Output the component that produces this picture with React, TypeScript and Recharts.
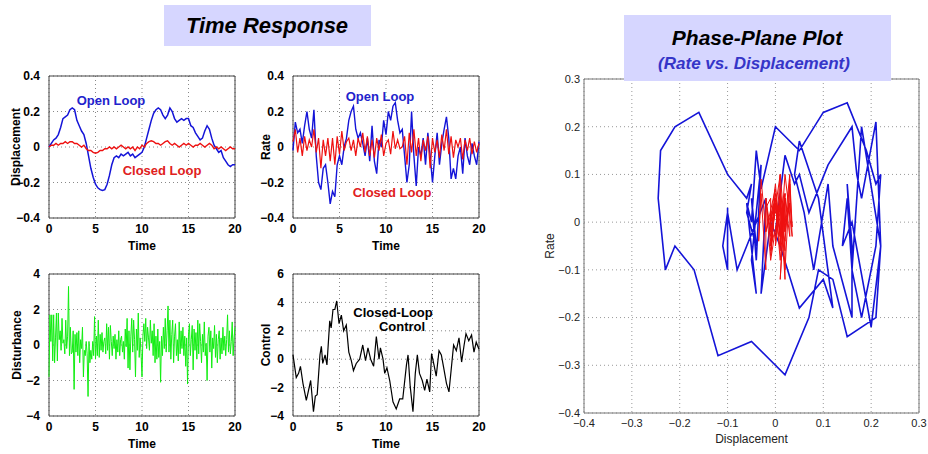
import React from "react";
import {
  LineChart,
  Line,
  XAxis,
  YAxis,
  CartesianGrid,
  ReferenceArea,
} from "recharts";

const FONT = "'Liberation Sans', Arial, Helvetica, sans-serif";
const BLUE = "#1414d8";
const RED = "#ee1010";
const GREEN = "#11ee11";

// time grid for displacement / rate (every 0.25 s)
const T25 = Array.from({ length: 81 }, (_, i) => i * 0.25);

const dispOpen = [
  0.0, 0.02, 0.04, 0.05, 0.07, 0.11, 0.16, 0.17, 0.18, 0.21,
  0.22, 0.21, 0.15, 0.12, 0.09, 0.07, 0.02, -0.05, -0.12, -0.17,
  -0.21, -0.23, -0.24, -0.245, -0.24, -0.21, -0.16, -0.1, -0.06, -0.05,
  -0.06, -0.04, -0.05, -0.04, -0.03, -0.05, -0.04, -0.06, -0.05, -0.04,
  -0.03, 0.0, 0.05, 0.1, 0.15, 0.19, 0.21, 0.22, 0.21, 0.18,
  0.16, 0.18, 0.22, 0.2, 0.16, 0.14, 0.15, 0.16, 0.15, 0.16,
  0.16, 0.12, 0.11, 0.08, 0.06, 0.04, 0.05, 0.09, 0.12, 0.1,
  0.05, 0.01, -0.01, -0.03, -0.02, -0.06, -0.08, -0.1, -0.11, -0.1,
  -0.1,
];

const dispClosed = [
  0.0, 0.01, 0.01, 0.02, 0.01, 0.02, 0.02, 0.03, 0.02, 0.03,
  0.03, 0.02, 0.02, 0.01, 0.0, 0.01, -0.01, -0.02, -0.02, -0.03,
  -0.035, -0.03, -0.02, -0.02, -0.01, -0.01, 0.0, -0.01, 0.0, -0.01,
  0.0, 0.01, 0.0, -0.01, 0.0, -0.01, 0.0, -0.02, 0.0, -0.01,
  0.01, 0.0, 0.02, 0.03, 0.035, 0.03, 0.02, 0.02, 0.01, 0.02,
  0.03, 0.035, 0.02, 0.01, 0.02, 0.01, 0.0, 0.01, 0.02, 0.01,
  0.02, 0.01, 0.0, 0.01, 0.01, 0.02, 0.01, 0.0, 0.01, 0.02,
  0.01, -0.01, 0.0, -0.01, 0.0, -0.01, -0.02, -0.01, 0.0, -0.01,
  -0.01,
];

const rateOpen = [
  -0.02, 0.14, 0.08, 0.1, 0.02, 0.12, 0.2, 0.1, 0.05, 0.21,
  -0.05, -0.2, -0.24, -0.12, -0.1, -0.2, -0.32, -0.25, -0.28, -0.1,
  -0.05, -0.1, 0.0, 0.05, 0.15, 0.2, 0.23, 0.1, 0.05, 0.08,
  0.02, -0.05, 0.05, -0.08, 0.12, -0.08, -0.15, 0.04, 0.0, 0.15,
  0.07, 0.2, 0.15, 0.23, 0.25, 0.15, 0.08, 0.1, -0.05, -0.2,
  -0.1, 0.2, -0.05, -0.22, 0.0, -0.05, 0.05, -0.1, 0.08, -0.05,
  -0.2, -0.05, 0.08, -0.1, 0.02, 0.1, 0.17, 0.05, -0.18, -0.12,
  -0.18, -0.05, 0.0, -0.15, 0.05, -0.05, -0.1, 0.02, -0.05, -0.1,
  0.03,
];

const rateClosed = [
  0.03, 0.1, -0.03, 0.05, -0.05, 0.06, -0.02, 0.04, 0.0, 0.1,
  -0.03, 0.05, -0.12, 0.04, -0.05, 0.05, -0.08, 0.05, -0.1, 0.06,
  -0.04, 0.09, -0.02, 0.03, 0.05, -0.02, 0.04, -0.05, 0.05, 0.0,
  0.08, -0.03, 0.06, -0.05, 0.04, -0.06, 0.05, -0.02, 0.07, -0.05,
  0.02, 0.04, -0.04, 0.09, -0.01, 0.04, -0.01, 0.0, 0.06, -0.1,
  0.08, -0.03, 0.1, -0.05, 0.05, -0.08, 0.04, -0.02, 0.06, -0.12,
  0.05, -0.03, 0.04, -0.06, 0.07, -0.02, 0.1, -0.04, 0.06, -0.06,
  0.04, 0.0, 0.05, -0.07, 0.04, -0.02, 0.05, -0.04, 0.03, -0.03,
  0.02,
];

// disturbance sampled every 0.1 s
const disturbance = [
  -1.8, 1.7, 0.2, 1.7, -0.9, 1.7, -1.0, 0.4, 1.8, -0.9,
  1.8, 0.3, 0.8, -0.3, 1.5, 0.1, 0.3, -0.5, 1.4, -0.2,
  0.5, 3.3, -0.6, 1.0, -0.5, -0.4, 0.8, -2.5, 0.6, -0.4,
  0.7, -0.6, 0.8, -1.0, 0.3, -0.2, 1.0, -1.8, -0.3, -0.6,
  0.2, -0.5, -2.9, 0.2, -1.0, -0.3, -0.8, 0.2, -0.6, 1.6,
  -0.8, 0.5, -0.6, 1.4, -0.7, 0.6, -0.3, 0.7, -0.4, 0.2,
  0.4, -0.5, 1.2, -0.3, 1.0, -0.8, 1.1, 0.2, -0.6, 0.5,
  -0.2, 0.6, -0.8, 0.3, -0.4, 0.8, -0.6, 0.3, 0.5, -0.4,
  0.2, -0.8, 0.9, -0.1, 1.5, -1.3, 0.8, -1.4, 0.5, 1.5,
  -0.4, 1.4, 0.3, -1.8, 0.9, -0.3, 1.8, -0.7, 0.4, -0.5,
  -1.8, 0.5, 1.2, 0.2, 1.5, -0.2, 1.0, 0.4, -0.3, 1.4,
  0.1, 0.8, -0.6, 1.2, -1.0, 0.5, -0.8, 0.9, -0.7, 0.2,
  -2.1, 0.5, -0.6, 1.0, -0.2, 1.5, -0.4, 0.8, 2.2, -0.4,
  1.4, -0.8, 0.6, 1.4, -1.0, 0.5, 1.2, -0.6, 0.3, -0.9,
  1.3, -0.5, 0.8, -0.2, 1.0, -0.6, 0.5, -1.2, 0.4, -2.2,
  0.6, 1.2, -0.6, 0.3, 1.1, -1.4, 0.9, -0.3, 0.7, -0.8,
  1.4, -0.5, 1.2, 0.2, -1.0, 0.6, -0.4, 1.3, -0.6, 0.1,
  -2.0, 0.5, 1.0, -0.4, 0.8, -1.3, 0.4, -0.2, 1.1, -0.7,
  0.6, -1.0, 0.3, 0.8, -0.8, 0.4, -0.5, 1.0, -0.3, 0.5,
  -0.6, 0.3, 1.7, -0.4, 0.8, -0.5, 0.2, 1.3, -0.6, 0.4,
  1.0,
];

const controlT = [
  0, 0.35, 0.6, 0.8, 1.07, 1.43, 1.6, 1.9, 2.2, 2.4,
  2.6, 2.9, 3.05, 3.2, 3.45, 3.65, 3.95, 4.1, 4.3, 4.5,
  4.7, 4.95, 5.2, 5.45, 5.73, 6.0, 6.27, 6.5, 6.8, 7.17,
  7.5, 7.8, 8.06, 8.35, 8.67, 8.96, 9.25, 9.4, 9.68, 9.86,
  10.1, 10.4, 10.75, 11.1, 11.47, 11.8, 12.2, 12.37, 12.6, 12.9,
  13.15, 13.37, 13.6, 13.9, 14.16, 14.4, 14.7, 14.9, 15.16, 15.4,
  15.7, 15.95, 16.2, 16.5, 16.77, 17.0, 17.27, 17.56, 17.85, 18.13,
  18.4, 18.6, 18.9, 19.2, 19.46, 19.7, 20,
];
const control = [
  0.3, -1.3, -1.0, -0.5, -1.7, -2.9, -2.4, -1.5, -3.7, -2.6,
  -2.5, 0.3, 0.9, -0.3, 0.3, -0.4, 2.7, 2.2, 3.5, 3.5,
  4.1, 2.5, 3.1, 2.0, 2.4, 0.5, -0.1, -0.8, -0.3, 0.0,
  1.0, -0.1, 0.8, 0.0, -0.5, 1.6, 0.0, 0.8, 0.0, -1.0,
  -0.6, -1.5, -3.0, -3.5, -2.8, -2.8, -0.4, 0.3, -1.9, -3.7,
  -1.0, 0.3, -1.0, -1.5, -2.2, -1.4, -2.3, 0.4, -0.4, -1.2,
  0.6, 0.3, -0.6, -1.7, -2.3, -0.8, 1.0, 0.6, 1.5, -0.2,
  1.0, 1.8, 1.3, 1.7, 0.5, 1.2, 0.7,
];

const timeTicks = [0, 5, 10, 15, 20];
const smallTicks = [-0.4, -0.2, 0, 0.2, 0.4];
const distTicks = [-4, -2, 0, 2, 4];
const ctrlTicks = [-4, -2, 0, 2, 4, 6];
const phaseXTicks = [-0.4, -0.3, -0.2, -0.1, 0, 0.1, 0.2, 0.3];
const phaseYTicks = [-0.4, -0.3, -0.2, -0.1, 0, 0.1, 0.2, 0.3];

const series = (ts: number[], vs: number[]) =>
  vs.map((v, i) => ({ t: ts[i], v }));

const fmt = (v: number) =>
  v < 0 ? "\u2212" + String(Math.abs(v)) : String(v);

type S = { data: { t: number; v: number }[]; color: string; w: number };

function TimePlot(props: {
  left: number;
  top: number;
  yLabel: string;
  labelX: number;
  domain: [number, number];
  ticks: number[];
  lines: S[];
}) {
  const { left, top, yLabel, labelX, domain, ticks, lines } = props;
  const tickStyle = { fontSize: 12, fontWeight: 700, fill: "#000", fontFamily: FONT };
  return (
    <div style={{ position: "absolute", left, top }}>
      <LineChart
        width={245}
        height={192}
        margin={{ top: 10, right: 10, left: 0, bottom: 0 }}
      >
        <CartesianGrid strokeDasharray="1 3" stroke="#888" />
        <XAxis
          type="number"
          dataKey="t"
          domain={[0, 20]}
          ticks={timeTicks}
          height={40}
          tickSize={0}
          tickMargin={6}
          axisLine={false}
          tick={tickStyle}
          label={{
            value: "Time",
            position: "insideBottom",
            offset: 8,
            style: { fontSize: 12, fontWeight: 700, fill: "#000", fontFamily: FONT },
          }}
        />
        <YAxis
          type="number"
          domain={domain}
          ticks={ticks}
          width={49}
          tickSize={0}
          tickMargin={9}
          axisLine={false}
          tick={tickStyle}
          tickFormatter={fmt}
          label={{
            value: yLabel,
            angle: -90,
            position: "insideLeft",
            offset: labelX,
            style: {
              textAnchor: "middle",
              fontSize: 12,
              fontWeight: 700,
              fill: "#000",
              fontFamily: FONT,
            },
          }}
        />
        <ReferenceArea
          x1={0}
          x2={20}
          y1={domain[0]}
          y2={domain[1]}
          fill="none"
          stroke="#444"
          strokeWidth={1}
        />
        {lines.map((s, i) => (
          <Line
            key={i}
            data={s.data}
            dataKey="v"
            type="linear"
            stroke={s.color}
            strokeWidth={s.w}
            dot={false}
            isAnimationActive={false}
          />
        ))}
      </LineChart>
    </div>
  );
}

function Label(props: {
  x: number;
  y: number;
  color: string;
  children: React.ReactNode;
  size?: number;
  italic?: boolean;
}) {
  return (
    <div
      style={{
        position: "absolute",
        left: props.x,
        top: props.y,
        transform: "translate(-50%, -50%)",
        whiteSpace: "nowrap",
        fontFamily: FONT,
        fontWeight: 700,
        fontStyle: props.italic ? "italic" : "normal",
        fontSize: props.size ?? 13,
        color: props.color,
        lineHeight: 1,
      }}
    >
      {props.children}
    </div>
  );
}

export default function App() {
  const phaseOpen = dispOpen.map((d, i) => ({ x: d, y: rateOpen[i] }));
  const phaseClosed = dispClosed.map((d, i) => ({ x: d, y: rateClosed[i] }));
  const distTimes = disturbance.map((_, i) => Number((i * 0.1).toFixed(1)));
  const phaseTick = { fontSize: 11, fill: "#222", fontFamily: FONT };

  return (
    <div
      style={{
        position: "absolute",
        left: 0,
        top: 0,
        width: 928,
        height: 454,
        background: "#fff",
        overflow: "hidden",
      }}
    >
      <TimePlot
        left={0}
        top={66}
        yLabel="Displacement"
        labelX={16}
        domain={[-0.4, 0.4]}
        ticks={smallTicks}
        lines={[
          { data: series(T25, dispOpen), color: BLUE, w: 1.5 },
          { data: series(T25, dispClosed), color: RED, w: 1.4 },
        ]}
      />
      <TimePlot
        left={244}
        top={66}
        yLabel="Rate"
        labelX={22}
        domain={[-0.4, 0.4]}
        ticks={smallTicks}
        lines={[
          { data: series(T25, rateOpen), color: BLUE, w: 1.4 },
          { data: series(T25, rateClosed), color: RED, w: 1.2 },
        ]}
      />
      <TimePlot
        left={0}
        top={264}
        yLabel="Disturbance"
        labelX={17}
        domain={[-4, 4]}
        ticks={distTicks}
        lines={[{ data: series(distTimes, disturbance), color: GREEN, w: 1 }]}
      />
      <TimePlot
        left={244}
        top={264}
        yLabel="Control"
        labelX={22}
        domain={[-4, 6]}
        ticks={ctrlTicks}
        lines={[{ data: series(controlT, control), color: "#000", w: 1.2 }]}
      />

      <div style={{ position: "absolute", left: 540, top: 69 }}>
        <LineChart
          width={388}
          height={384}
          margin={{ top: 10, right: 9, left: 0, bottom: 0 }}
        >
          <CartesianGrid strokeDasharray="1 3" stroke="#999" />
          <XAxis
            type="number"
            dataKey="x"
            domain={[-0.4, 0.3]}
            ticks={phaseXTicks}
            height={40}
            tickSize={0}
            tickMargin={6}
            axisLine={false}
            tick={phaseTick}
            tickFormatter={fmt}
            allowDataOverflow
            label={{
              value: "Displacement",
              position: "insideBottom",
              offset: 10,
              style: { fontSize: 12, fill: "#222", fontFamily: FONT },
            }}
          />
          <YAxis
            type="number"
            domain={[-0.4, 0.3]}
            ticks={phaseYTicks}
            width={44}
            tickSize={0}
            tickMargin={4}
            axisLine={false}
            tick={phaseTick}
            tickFormatter={fmt}
            allowDataOverflow
            label={{
              value: "Rate",
              angle: -90,
              position: "insideLeft",
              offset: 10,
              style: { textAnchor: "middle", fontSize: 12, fill: "#222", fontFamily: FONT },
            }}
          />
          <ReferenceArea
            x1={-0.4}
            x2={0.3}
            y1={-0.4}
            y2={0.3}
            fill="none"
            stroke="#777"
          />
          <Line
            data={phaseOpen}
            dataKey="y"
            type="linear"
            stroke={BLUE}
            strokeWidth={1.6}
            dot={false}
            isAnimationActive={false}
          />
          <Line
            data={phaseClosed}
            dataKey="y"
            type="linear"
            stroke={RED}
            strokeWidth={1}
            dot={false}
            isAnimationActive={false}
          />
        </LineChart>
      </div>

      <Label x={111} y={100} color="#2222cc">Open Loop</Label>
      <Label x={162} y={170} color="#e02020">Closed Loop</Label>
      <Label x={380} y={96} color="#2222cc">Open Loop</Label>
      <Label x={392} y={192} color="#e02020">Closed Loop</Label>
      <Label x={393} y={312} color="#000">Closed-Loop</Label>
      <Label x={402} y={326} color="#000">Control</Label>

      <div
        style={{
          position: "absolute",
          left: 164,
          top: 5,
          width: 207,
          height: 41,
          background: "#d6d6ff",
        }}
      />
      <Label x={267} y={26} color="#000" size={22} italic>
        Time Response
      </Label>

      <div
        style={{
          position: "absolute",
          left: 624,
          top: 15,
          width: 267,
          height: 66,
          background: "#d6d6ff",
        }}
      />
      <Label x={757} y={37} color="#000" size={21} italic>
        Phase-Plane Plot
      </Label>
      <Label x={754} y={63} color="#3535c8" size={17} italic>
        (Rate vs. Displacement)
      </Label>
    </div>
  );
}
